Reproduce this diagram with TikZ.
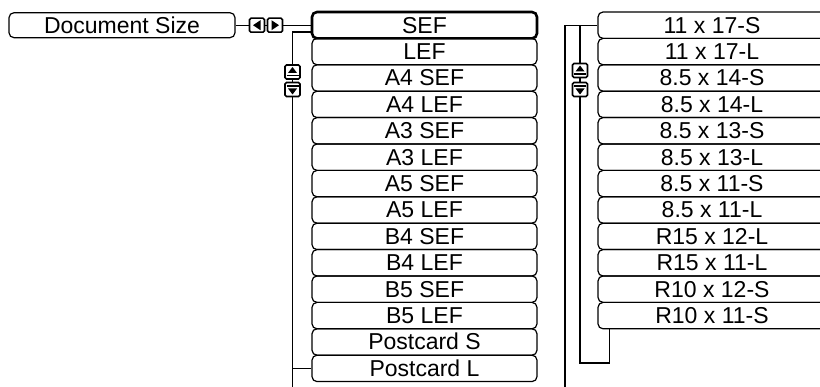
\documentclass[tikz,border=0pt]{standalone}
\usepackage{fontspec}
\setmainfont{Liberation Sans}
\tikzset{
  sizebox/.style={draw=black, line width=1.2pt, rounded corners=5pt, minimum width=225pt,
    minimum height=26.4pt, inner sep=0pt, text height=16pt, text depth=0pt,
    font=\fontsize{23}{26}\selectfont},
  widebox/.style={sizebox, minimum width=228pt},
  selbox/.style={sizebox, line width=2.6pt},
  iconbox/.style={draw=black, line width=1.6pt, fill=white, rounded corners=1.5pt,
    minimum width=15pt, minimum height=14pt, inner sep=0pt},
  upicon/.style={iconbox, path picture={
    \fill[black, sharp corners] ([shift={(-4.5pt,-1pt)}]path picture bounding box.center) -- ++(9pt,0pt) -- ++(-4.5pt,6pt) -- cycle;
    \draw[black, sharp corners, line width=1.4pt] ([shift={(-6pt,-3.5pt)}]path picture bounding box.center) -- ++(12pt,0pt);}},
  downicon/.style={iconbox, path picture={
    \fill[black, sharp corners] ([shift={(-4.5pt,1pt)}]path picture bounding box.center) -- ++(9pt,0pt) -- ++(-4.5pt,-6pt) -- cycle;
    \draw[black, sharp corners, line width=1.4pt] ([shift={(-6pt,3.5pt)}]path picture bounding box.center) -- ++(12pt,0pt);}},
  lefticon/.style={iconbox, path picture={
    \fill[black, sharp corners] ([shift={(-4pt,0pt)}]path picture bounding box.center) -- ++(7.5pt,5pt) -- ++(0pt,-10pt) -- cycle;}},
  righticon/.style={iconbox, path picture={
    \fill[black, sharp corners] ([shift={(4pt,0pt)}]path picture bounding box.center) -- ++(-7.5pt,5pt) -- ++(0pt,-10pt) -- cycle;}},
  wire/.style={draw=black, line width=1.2pt}
}
\begin{document}
\begin{tikzpicture}[x=1pt,y=-1pt]
\useasboundingbox (0,0) rectangle (820,387);
\clip (0,0) rectangle (820,387);

% the menu item and its two arrows
\node[sizebox, minimum width=226pt, minimum height=25pt] (DS) at (122,25.2) {Document Size};
\node[lefticon] (LI) at (257,25.2) {};
\node[righticon] (RI) at (275,25.2) {};

% first list
\node[selbox] (SEF) at (424.5,25.2) {SEF};
\node[sizebox] (LEF) at (424.5,51.6) {LEF};
\node[sizebox] (A4S) at (424.5,78) {A4 SEF};
\node[sizebox] (A4L) at (424.5,104.4) {A4 LEF};
\node[sizebox] (A3S) at (424.5,130.8) {A3 SEF};
\node[sizebox] (A3L) at (424.5,157.2) {A3 LEF};
\node[sizebox] (A5S) at (424.5,183.6) {A5 SEF};
\node[sizebox] (A5L) at (424.5,210) {A5 LEF};
\node[sizebox] (B4S) at (424.5,236.4) {B4 SEF};
\node[sizebox] (B4L) at (424.5,262.8) {B4 LEF};
\node[sizebox] (B5S) at (424.5,289.2) {B5 SEF};
\node[sizebox] (B5L) at (424.5,315.6) {B5 LEF};
\node[sizebox] (PS) at (424.5,342) {Postcard S};
\node[sizebox] (PL) at (424.5,368.4) {Postcard L};

% second list
\node[widebox] (S1117) at (712,25.2) {11 x 17-S};
\node[widebox] (L1117) at (712,51.6) {11 x 17-L};
\node[widebox] (S8514) at (712,78) {8.5 x 14-S};
\node[widebox] (L8514) at (712,104.4) {8.5 x 14-L};
\node[widebox] (S8513) at (712,130.8) {8.5 x 13-S};
\node[widebox] (L8513) at (712,157.2) {8.5 x 13-L};
\node[widebox] (S8511) at (712,183.6) {8.5 x 11-S};
\node[widebox] (L8511) at (712,210) {8.5 x 11-L};
\node[widebox] (R1512) at (712,236.4) {R15 x 12-L};
\node[widebox] (R1511) at (712,262.8) {R15 x 11-L};
\node[widebox] (R1012) at (712,289.2) {R10 x 12-S};
\node[widebox] (R1011) at (712,315.6) {R10 x 11-S};

\coordinate (LB) at (292.5,387);
\coordinate (RB) at (565,387);
\coordinate (RC) at (580,363);

\path[wire] (DS) edge (LI);
\path[wire] (LI) edge (RI);
\path[wire] (RI) edge (SEF);
\draw[wire] ([yshift=-6.8pt]SEF.west) -| (LB);
\draw[wire] (PL.west) -- (PL.west -| LB);
\draw[wire] (S1117.west) -| (RB);
\draw[wire] (RC |- S1117.west) -- (RC) -| ([xshift=12pt]R1011.south west);

% scroll buttons
\node[upicon] (LU) at (292.5,72) {};
\node[downicon] (LD) at (292.5,89.5) {};
\node[upicon] (RU) at (580,70.5) {};
\node[downicon] (RD) at (580,89.5) {};
\end{tikzpicture}
\end{document}
